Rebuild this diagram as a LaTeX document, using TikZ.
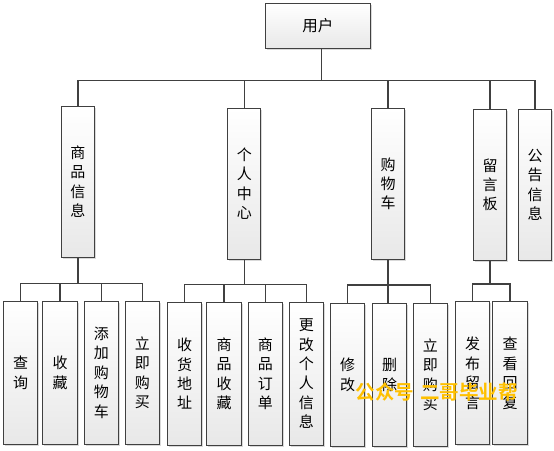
\documentclass[tikz,border=0pt]{standalone}
\usepackage{fontspec}
\newfontfamily\cjk{Noto Sans CJK SC}
\newfontfamily\cjkbold{Noto Sans CJK SC Bold}
\usetikzlibrary{shadows}
\definecolor{edgec}{HTML}{404040}
\definecolor{wmark}{HTML}{FFC000}
\tikzset{
  box/.style={draw=edgec, line width=1.2pt, top color=white, bottom color=black!9,
    inner sep=0pt, align=center, font=\cjk\fontsize{15}{19.4}\selectfont,
    drop shadow={shadow xshift=1.5pt, shadow yshift=-1.5pt, fill=black!25, opacity=0.6}},
  lvltwo/.style={box, minimum width=33pt, minimum height=151pt},
  lvlthree/.style={box, minimum width=34.4pt, minimum height=143pt},
  conn/.style={draw=edgec, line width=1.2pt}
}
\begin{document}
\begin{tikzpicture}[x=1pt,y=-1pt]
\useasboundingbox (0,0) rectangle (554,450);
% root
\node[box, minimum width=105pt, minimum height=45pt, font=\cjk\fontsize{15.5}{18}\selectfont] (u) at (317.8,25.8) {用户};
% level 2
\node[lvltwo] (spxx) at (77.9,181.8) {商\\品\\信\\息};
\node[lvltwo] (grzx) at (244.3,183.8) {个\\人\\中\\心};
\node[lvltwo] (gwc) at (388,183.8) {购\\物\\车};
\node[lvltwo] (lyb) at (490,184.8) {留\\言\\板};
\node[lvltwo] (ggxx) at (535,184.8) {公\\告\\信\\息};
% level 3
\node[lvlthree] (cx) at (20.5,372.7) {查\\询};
\node[lvlthree] (sc) at (60,372.7) {收\\藏};
\node[lvlthree] (tj) at (101.3,372.7) {添\\加\\购\\物\\车};
\node[lvlthree] (ljgm) at (142.3,372.7) {立\\即\\购\\买};
\node[lvlthree] (shdz) at (184.5,373.8) {收\\货\\地\\址};
\node[lvlthree] (spsc) at (224,373.8) {商\\品\\收\\藏};
\node[lvlthree] (spdd) at (265.3,373.8) {商\\品\\订\\单};
\node[lvlthree] (ggr) at (306.3,373.8) {更\\改\\个\\人\\信\\息};
\node[lvlthree] (xg) at (347.5,374.8) {修\\改};
\node[lvlthree] (sch) at (389.5,374.8) {删\\除};
\node[lvlthree] (ljgm2) at (430.3,374.8) {立\\即\\购\\买};
\node[lvlthree] (fbly) at (472.5,373.3) {发\\布\\留\\言};
\node[lvlthree] (ckhf) at (510,373.3) {查\\看\\回\\复};
% connectors root
\coordinate (bus) at (321.3,80.3);
\draw[conn] (u.south -| bus) -- (bus);
\foreach \c in {spxx,grzx,gwc,lyb,ggxx} \draw[conn] (bus) -| (\c.north);
% sub-trees
\coordinate (b1) at (0,283.3);
\coordinate (b2) at (0,284.3);
\coordinate (b3) at (0,285);
\coordinate (b4) at (0,284);
\draw[conn] (spxx.south) -- (spxx.south |- b1);
\foreach \c in {cx,sc,tj,ljgm} \draw[conn] (spxx.south |- b1) -| (\c.north);
\draw[conn] (grzx.south) -- (grzx.south |- b2);
\foreach \c in {shdz,spsc,spdd,ggr} \draw[conn] (grzx.south |- b2) -| (\c.north);
\draw[conn] (gwc.south) -- (gwc.south |- b3);
\foreach \c in {xg,ljgm2} \draw[conn] (gwc.south |- b3) -| (\c.north);
\draw[conn] (gwc.south |- b3) -- (sch.north -| gwc.south);
\draw[conn] (lyb.south) -- (lyb.south |- b4);
\foreach \c in {fbly,ckhf} \draw[conn] (lyb.south |- b4) -| (\c.north);
% watermark
\node[text=wmark, font=\cjkbold\fontsize{19.5}{20}\selectfont, inner sep=0pt] (wm) at (436.7,392) {公众号\hspace{6pt}二哥毕业帮};
\end{tikzpicture}
\end{document}
